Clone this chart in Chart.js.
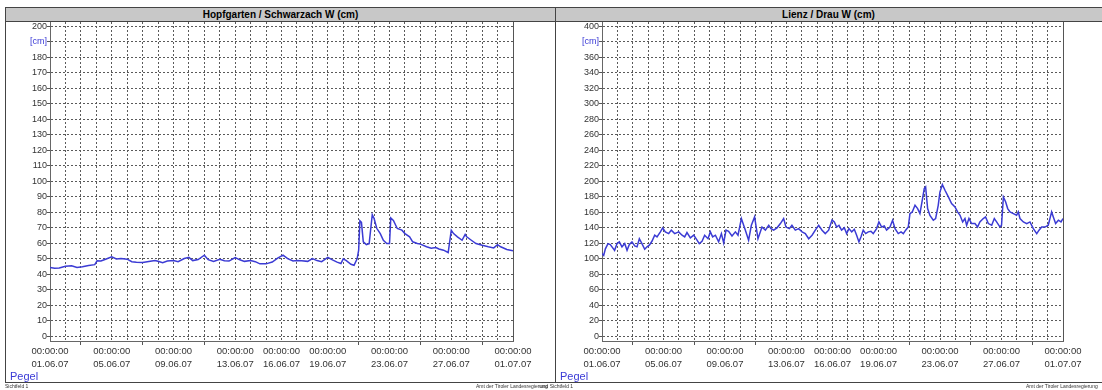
<!DOCTYPE html>
<html>
<head>
<meta charset="utf-8">
<title>Pegel</title>
<script src="https://cdn.jsdelivr.net/npm/chart.js@4/dist/chart.umd.min.js"></script>
<style>
  html, body { margin: 0; padding: 0; background: #fff; width: 1102px; height: 390px; overflow: hidden;
    font-family: "Liberation Sans", Arial, sans-serif; }
  .panel { position: absolute; top: 7px; height: 376px; border: 1px solid #444; box-sizing: border-box; background: #fff; }
  .head { position: absolute; left: 0; right: 0; top: 0; height: 13px; background: #c8c8c8; border-bottom: 1px solid #444;
    font: bold 10px "Liberation Sans", Arial, sans-serif; color: #000; text-align: center; line-height: 13px; white-space: nowrap; }
  .panel canvas { position: absolute; left: 0; top: 14px; }
  .pegel { position: absolute; left: 4px; top: 363px; color: #3a3ad6; font-size: 11px; line-height: 11px; }
  .foot { position: absolute; top: 384px; font-size: 5px; line-height: 5px; color: #333; white-space: nowrap; }
</style>
</head>
<body>

<div class="panel" id="p1" style="left:5px; width:551px;">
  <div class="head">Hopfgarten / Schwarzach W (cm)</div>
  <canvas id="c1" width="549" height="360"></canvas>
  <div class="pegel">Pegel</div>
</div>
<div class="panel" id="p2" style="left:555px; width:550px;">
  <div class="head" style="padding-right:3px;">Lienz / Drau W (cm)</div>
  <canvas id="c2" width="548" height="360"></canvas>
  <div class="pegel">Pegel</div>
</div>
<div class="foot" style="left:5px;">Sichtfeld 1</div>
<div class="foot" style="left:476px;">Amt der Tiroler Landesregierung</div>
<div class="foot" style="left:540px;">und Sichtfeld 1</div>
<div class="foot" style="left:1026px;">Amt der Tiroler Landesregierung</div>

<script>
// Time axis: days after 01.06.07 00:00
const xLabelDays  = [0, 4, 8, 12, 15, 18, 22, 26, 30];
const xLabelDates = ['01.06.07', '05.06.07', '09.06.07', '13.06.07', '16.06.07', '19.06.07', '23.06.07', '27.06.07', '01.07.07'];
const xTimeLabel  = '00:00:00';
const minorTickDays = [2, 6, 10, 20, 24, 28];

// Hopfgarten / Schwarzach, water level W in cm
const hopfYTicks = [0, 10, 20, 30, 40, 50, 60, 70, 80, 90, 100, 110, 120, 130, 140, 150, 160, 170, 180, 190, 200];
const hopfUnitTick = 190;
const hopfTime = [
  0, 0.3, 0.6, 1.0, 1.4, 1.75, 2.1, 2.5, 2.9, 3.05, 3.3, 3.6, 4.0, 4.3, 4.6, 5.0, 5.3, 5.6, 6.0, 6.4,
  6.8, 7.0, 7.3, 7.6, 8.0, 8.3, 8.7, 9.0, 9.25, 9.6, 10.0, 10.25, 10.6, 11.0, 11.3, 11.6, 12.0, 12.3, 12.6, 13.0,
  13.3, 13.6, 14.0, 14.4, 14.75, 15.1, 15.4, 15.75, 16.0, 16.3, 16.7, 17.0, 17.3, 17.6, 18.0, 18.3, 18.6, 18.85, 19.0, 19.2,
  19.5, 19.7, 19.9, 20.0, 20.08, 20.18, 20.3, 20.5, 20.68, 20.88, 21.0, 21.17, 21.4, 21.6, 21.82, 22.0, 22.08, 22.25, 22.5, 22.8,
  23.0, 23.3, 23.5, 23.8, 24.0, 24.4, 24.7, 25.0, 25.2, 25.5, 25.8, 26.0, 26.15, 26.4, 26.7, 26.9, 27.0, 27.3, 27.6, 28.0,
  28.4, 28.75, 29.0, 29.2, 29.6, 30.0
];
const hopfLevel = [
  44.5, 44.0, 44.1, 45.3, 45.6, 44.4, 45.0, 45.8, 46.3, 48.8, 48.6, 49.8, 51.3, 49.9, 50.3, 49.8, 48.2, 47.8, 47.6, 48.3,
  49.0, 48.5, 47.6, 48.6, 49.0, 48.2, 50.2, 51.0, 48.9, 49.6, 52.4, 49.5, 48.4, 49.8, 48.8, 48.6, 50.9, 49.4, 48.4, 49.0,
  48.2, 46.8, 46.8, 48.0, 50.5, 52.4, 50.2, 48.6, 48.9, 48.8, 48.4, 50.2, 48.9, 48.2, 51.0, 49.4, 47.9, 47.0, 50.0, 48.9,
  46.5, 45.9, 50.0, 55.6, 74.5, 73.5, 61.0, 59.2, 59.8, 78.5, 76.0, 69.7, 66.3, 62.0, 59.9, 59.9, 76.4, 74.8, 69.6, 68.5,
  66.3, 64.2, 61.0, 59.9, 59.5, 57.8, 56.8, 57.3, 56.4, 55.6, 54.1, 68.5, 66.3, 64.2, 62.0, 65.7, 64.2, 62.0, 59.9, 58.8,
  57.8, 57.1, 59.2, 57.8, 56.1, 55.2
];

// Lienz / Drau, water level W in cm
const lienzYTicks = [0, 20, 40, 60, 80, 100, 120, 140, 160, 180, 200, 220, 240, 260, 280, 300, 320, 340, 360, 380, 400];
const lienzUnitTick = 380;
const lienzTime = [
  0.00, 0.11, 0.22, 0.39, 0.54, 0.65, 0.82, 0.98, 1.13, 1.30, 1.48, 1.63, 1.78, 1.95, 2.13, 2.28, 2.43, 2.60, 2.78, 2.93,
  3.08, 3.25, 3.43, 3.58, 3.80, 3.95, 4.12, 4.34, 4.51, 4.73, 4.99, 5.21, 5.38, 5.53, 5.75, 5.97, 6.12, 6.33, 6.51, 6.68,
  6.90, 7.05, 7.20, 7.38, 7.59, 7.77, 7.92, 8.07, 8.24, 8.46, 8.68, 8.85, 9.07, 9.33, 9.54, 9.72, 9.93, 10.15, 10.41, 10.63,
  10.85, 11.00, 11.17, 11.39, 11.61, 11.82, 11.97, 12.19, 12.36, 12.58, 12.80, 13.02, 13.23, 13.45, 13.67, 13.88, 14.10, 14.32, 14.53, 14.75,
  14.97, 15.12, 15.27, 15.42, 15.59, 15.77, 15.92, 16.07, 16.25, 16.42, 16.57, 16.72, 16.85, 17.00, 17.16, 17.33, 17.50, 17.65, 17.87, 18.02,
  18.20, 18.37, 18.52, 18.74, 18.91, 19.07, 19.28, 19.46, 19.61, 19.76, 19.93, 20.04, 20.19, 20.37, 20.54, 20.69, 20.84, 20.97, 21.06, 21.19,
  21.34, 21.56, 21.71, 21.88, 21.99, 22.15, 22.32, 22.54, 22.75, 22.97, 23.14, 23.30, 23.47, 23.62, 23.73, 23.88, 24.05, 24.27, 24.44, 24.59,
  24.81, 24.96, 25.14, 25.36, 25.53, 25.68, 25.90, 26.00, 26.12, 26.27, 26.40, 26.55, 26.77, 26.98, 27.09, 27.20, 27.42, 27.64, 27.85, 28.07,
  28.29, 28.44, 28.61, 28.83, 29.04, 29.26, 29.37, 29.52, 29.70, 29.87, 30.00
];
const lienzLevel = [
  107, 104.5, 113, 119.7, 118.5, 115.5, 111, 119.7, 121.9, 115.5, 119.7, 111, 118.5, 121.9, 116.7, 115.5, 126, 119.7, 112.4, 115.5,
  117.6, 122.7, 130.5, 128.3, 134.8, 140, 134.8, 132.6, 137, 132.6, 134.8, 130.5, 128.3, 133.9, 127, 130.5, 126, 119.7, 122.7, 130.5,
  126, 134.8, 128.3, 130.5, 121.9, 132.6, 120.6, 137, 135.6, 129.6, 134.8, 130.5, 152, 137, 124, 143.3, 154, 126, 141, 137,
  143.3, 139, 137, 140, 145.5, 152, 141, 139, 143.3, 137, 139, 134.8, 132.6, 126, 130.5, 137, 143.3, 137, 132.6, 137,
  150, 147.6, 141, 143.3, 137, 140, 132.6, 139, 134.8, 138.2, 130.5, 121.9, 128.3, 137, 132.6, 134.8, 135.6, 132.6, 139, 147.6,
  141, 142.3, 137, 141, 149.8, 139, 132.6, 134.8, 132.6, 137, 141, 158.4, 160.5, 169, 164.8, 158.4, 175.5, 190.6, 192.7, 164.8,
  156, 149.8, 152, 169, 186, 195.7, 188.4, 179.8, 171.2, 167, 160.5, 156.2, 147.6, 152, 143.3, 152, 145.5, 145.5, 141, 147.6,
  152, 154, 145.5, 143.3, 152, 147.6, 141, 143.3, 179.8, 173.4, 164.8, 160.5, 158.4, 156.2, 160.5, 152, 147.6, 145.5, 147.6, 139,
  132.6, 137, 141, 141, 143.3, 160.5, 154, 145.5, 149.8, 147.6, 152
];

// one vertical grid line per day
const gridDays = Array.from({ length: 31 }, (_, d) => d);

const FONT = '"Liberation Sans", Arial, sans-serif';

// solid frame on the right edge of the plot area
const frame = {
  id: 'frame',
  afterDraw(chart) {
    const { ctx, chartArea: a } = chart;
    ctx.save();
    ctx.strokeStyle = '#555';
    ctx.lineWidth = 1;
    ctx.beginPath();
    ctx.moveTo(Math.round(a.right) + 0.5, a.top);
    ctx.lineTo(Math.round(a.right) + 0.5, a.bottom);
    ctx.stroke();
    ctx.restore();
  }
};

function pegelChart(canvas, time, level, yTicks, unitTick, yMin, yMax, g) {
  return new Chart(canvas, {
    type: 'line',
    data: {
      datasets: [{
        data: time.map((t, i) => ({ x: t, y: level[i] })),
        borderColor: '#3b3bd4',
        borderWidth: 1.5,
        pointRadius: 0,
        tension: 0,
        fill: false
      }]
    },
    options: {
      responsive: false,
      animation: false,
      events: [],
      layout: { padding: { left: 0, right: g.padRight, top: 0, bottom: 0 } },
      plugins: { legend: { display: false }, tooltip: { enabled: false } },
      scales: {
        x: {
          type: 'linear',
          min: 0,
          max: 30,
          afterBuildTicks: ax => { ax.ticks = gridDays.map(v => ({ value: v })); },
          afterFit: ax => { ax.height = g.xHeight; ax.paddingLeft = 0; ax.paddingRight = 0; },
          border: { display: true, color: '#666', width: 1, dash: [2, 2] },
          grid: {
            color: '#5a5a5a',
            lineWidth: 1,
            drawTicks: true,
            tickLength: 4,
            tickColor: c => (c.tick && minorTickDays.includes(c.tick.value)) ? '#555' : 'rgba(0,0,0,0)'
          },
          ticks: {
            autoSkip: false,
            maxRotation: 0,
            padding: 0,
            color: '#333',
            font: { family: FONT, size: 9.5, lineHeight: 1.35 },
            callback: v => {
              const k = xLabelDays.indexOf(v);
              return k >= 0 ? [xTimeLabel, xLabelDates[k]] : '';
            }
          }
        },
        y: {
          type: 'linear',
          min: yMin,
          max: yMax,
          afterBuildTicks: ax => { ax.ticks = yTicks.map(v => ({ value: v })); },
          afterFit: ax => { ax.width = g.yWidth; ax.paddingTop = 0; ax.paddingBottom = 0; },
          border: { display: true, color: '#666', width: 1, dash: [2, 2] },
          grid: { color: '#5a5a5a', lineWidth: 1, drawTicks: true, tickLength: 3, tickColor: '#555' },
          ticks: {
            padding: 0,
            color: c => c.tick && c.tick.value === unitTick ? '#3a3ad6' : '#333',
            font: { family: FONT, size: 9 },
            callback: v => v === unitTick ? '[cm]' : String(v)
          }
        }
      }
    },
    plugins: [frame]
  });
}

pegelChart(document.getElementById('c1'), hopfTime, hopfLevel, hopfYTicks, hopfUnitTick, -2.9, 202.6,
  { yWidth: 44, xHeight: 41, padRight: 42 });
pegelChart(document.getElementById('c2'), lienzTime, lienzLevel, lienzYTicks, lienzUnitTick, -5.8, 405.2,
  { yWidth: 46, xHeight: 41, padRight: 41 });
</script>
</body>
</html>
